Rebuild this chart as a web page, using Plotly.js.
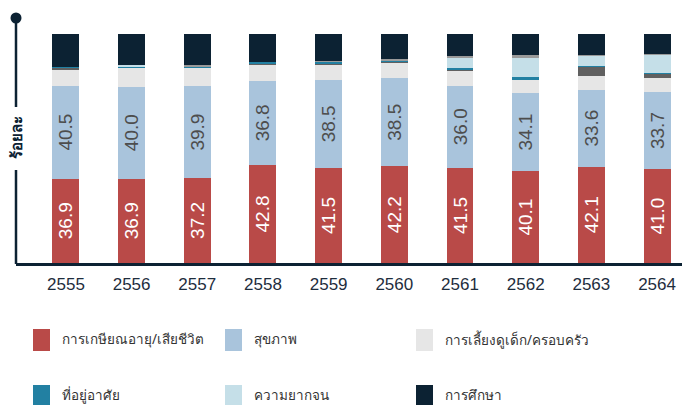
<!DOCTYPE html>
<html>
<head>
<meta charset="utf-8">
<script src="https://cdn.plot.ly/plotly-3.0.1.min.js"></script>
<style>html,body{margin:0;padding:0;background:#fff;}#chart{width:682px;height:405px;}</style>
</head>
<body>
<div id="chart"></div>
<script>
// ---- data ----
const years = ["2555","2556","2557","2558","2559","2560","2561","2562","2563","2564"];
const retirement = [36.9, 36.9, 37.2, 42.8, 41.5, 42.2, 41.5, 40.1, 42.1, 41.0];
const health     = [40.5, 40.0, 39.9, 36.8, 38.5, 38.5, 36.0, 34.1, 33.6, 33.7];
const childcare  = [6.9, 8.1, 8.0, 7.0, 6.5, 6.8, 6.5, 5.9, 5.9, 6.1];
const otherDark  = [0.8, 0.0, 0.0, 0.4, 0.5, 0.4, 0.4, 0.0, 3.9, 1.9];
const housing    = [0.6, 0.6, 0.6, 0.9, 0.8, 0.4, 0.7, 1.2, 0.6, 0.4];
const poverty    = [0.0, 1.0, 0.0, 0.0, 0.0, 0.0, 4.4, 8.3, 4.2, 7.7];
const otherLight = [0.0, 0.0, 0.7, 0.0, 0.3, 0.6, 0.9, 1.3, 0.4, 0.4];
const education  = [14.3, 13.4, 13.5, 12.2, 11.8, 11.2, 9.6, 9.2, 9.2, 8.7];

const seriesNames = ["การเกษียณอายุ/เสียชีวิต","สุขภาพ","การเลี้ยงดูเด็ก/ครอบครัว","อื่นๆ","ที่อยู่อาศัย","ความยากจน","ไม่ระบุ","การศึกษา"];
const seriesValues = [retirement, health, childcare, otherDark, housing, poverty, otherLight, education];
const seriesColors = ["#b94a48","#a9c4dc","#e6e6e6","#606060","#2280a2","#c5dfe8","#9a9a9a","#0c2233"];
const seriesLabelColors = ["#ffffff","#4d4d4d",null,null,null,null,null,null];
const legendOrder = [0,1,2,4,5,7];
const yTitle = "ร้อยละ";

// ---- layout helpers (pixel -> paper) ----
const W = 682, H = 405, ML = 16, MT = 34, MB = 142, MR = 0;
const PW = W - ML - MR, PH = H - MT - MB;
const px = x => (x - ML) / PW;
const py = y => (H - MB - y) / PH;

const traces = seriesValues.map((vals, i) => ({
  type: "bar",
  x: years,
  y: vals,
  name: seriesNames[i],
  width: 0.41,
  marker: {color: seriesColors[i], line: {width: 0}},
  text: seriesLabelColors[i] ? vals.map(v => v.toFixed(1)) : undefined,
  texttemplate: seriesLabelColors[i] ? "%{text}" : "",
  textposition: seriesLabelColors[i] ? "inside" : "none",
  insidetextanchor: "middle",
  textangle: -90,
  constraintext: "none",
  textfont: {family: "Liberation Sans, Arial, sans-serif", size: 19, color: seriesLabelColors[i] || "#000"},
  hoverinfo: "skip",
  showlegend: false
}));

const shapes = [
  {type: "line", xref: "paper", yref: "paper", x0: px(16), x1: px(16), y0: py(18), y1: py(107), line: {color: "#0c2233", width: 2.5}},
  {type: "line", xref: "paper", yref: "paper", x0: px(16), x1: px(16), y0: py(170), y1: py(264), line: {color: "#0c2233", width: 2.5}},
  {type: "circle", xref: "paper", yref: "paper", xsizemode: "pixel", ysizemode: "pixel",
   xanchor: px(16), yanchor: py(18), x0: -5.5, x1: 5.5, y0: -5.5, y1: 5.5,
   fillcolor: "#0c2233", line: {width: 0}}
];
const annotations = [
  {xref: "paper", yref: "paper", x: px(16), y: py(138), text: "<b>" + yTitle + "</b>", textangle: -90,
   showarrow: false, xanchor: "center", yanchor: "middle",
   font: {family: "Noto Sans, sans-serif", size: 15, color: "#0c2233"}}
];

// custom legend grid
const colX = [33, 225, 416];
const rowY = [340, 396];
legendOrder.forEach((si, k) => {
  const c = k % 3, r = Math.floor(k / 3);
  const x0 = colX[c], yc = rowY[r];
  shapes.push({type: "rect", xref: "paper", yref: "paper",
    x0: px(x0), x1: px(x0 + 17), y0: py(yc + 11), y1: py(yc - 11),
    fillcolor: seriesColors[si], line: {width: 0}});
  annotations.push({xref: "paper", yref: "paper", x: px(x0 + 27), y: py(yc - 1), text: seriesNames[si],
    showarrow: false, xanchor: "left", yanchor: "middle",
    font: {family: "Noto Sans, sans-serif", size: 13.5, color: "#333333"}});
});

const layout = {
  width: W, height: H,
  margin: {l: ML, r: MR, t: MT, b: MB, pad: 0},
  barmode: "stack",
  paper_bgcolor: "#ffffff",
  plot_bgcolor: "#ffffff",
  showlegend: false,
  xaxis: {
    type: "category",
    range: [-0.76, 9.38],
    showgrid: false, zeroline: false,
    showline: true, linecolor: "#0c2233", linewidth: 3,
    ticks: "", ticklabelstandoff: 4,
    tickfont: {family: "Liberation Sans, Arial, sans-serif", size: 17, color: "#1e2d3d"}
  },
  yaxis: {
    range: [0, 100],
    showgrid: false, zeroline: false, showline: false,
    showticklabels: false, ticks: ""
  },
  shapes: shapes,
  annotations: annotations
};

Plotly.newPlot("chart", traces, layout, {displayModeBar: false, staticPlot: true});
</script>
</body>
</html>
